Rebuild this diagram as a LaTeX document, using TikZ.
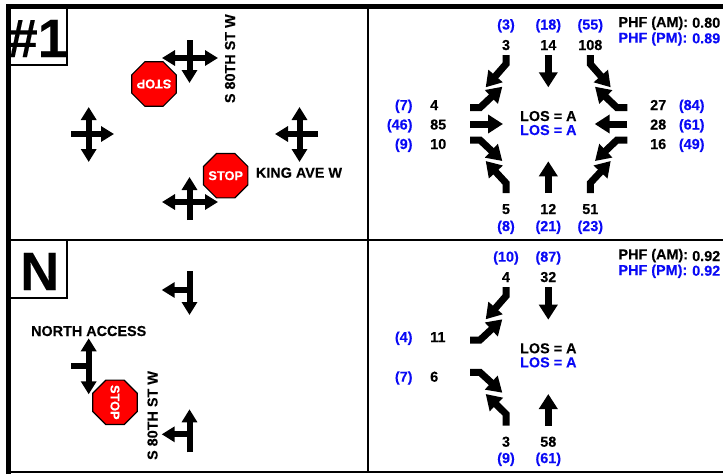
\documentclass[tikz,border=0pt]{standalone}
\usepackage{fontspec}
\setmainfont{Liberation Sans}[BoldFeatures={FakeBold=0.15}]
\usetikzlibrary{arrows.meta,shapes.geometric}
\definecolor{pmblue}{RGB}{10,10,245}
\definecolor{stopred}{RGB}{255,0,0}
\tikzset{
  mv/.style={line width=6pt,-{Triangle[length=13pt,width=15pt]}},
  tm/.style={line width=7pt,-{Triangle[length=15pt,width=18pt]}},
  stub/.style={line width=6pt},
  stopsign/.style={regular polygon,regular polygon sides=8,minimum size=48pt,inner sep=0pt,outer sep=0pt,
    draw=black,line width=1.2pt,fill=stopred},
  stoptext/.style={inner sep=0pt,text=white,font=\fontsize{12.8}{14}\selectfont\bfseries},
  lab/.style={inner sep=0pt,anchor=base,font=\fontsize{14.4}{16}\selectfont\bfseries},
  am/.style={lab,text=black},
  pm/.style={lab,text=pmblue},
  tagbox/.style={draw,line width=1.2pt,fill=white},
  tagnum/.style={inner sep=0pt,anchor=base west,font=\fontsize{54}{60}\selectfont\bfseries}
}
\begin{document}
\begin{tikzpicture}[x=1pt,y=-1pt]
\useasboundingbox (0,0) rectangle (723,474);
% id boxes
\draw[tagbox] (8,8) rectangle (67,65);
\draw[tagbox] (8,240) rectangle (67,298);
\node[tagnum] (tag1) at (7.5,57) {\#1};
\node[tagnum] (tagN) at (20,290) {N};
% frame
\draw[line width=5pt] (8.5,474) -- (8.5,6) -- (723,6);
\draw[line width=2pt] (8.5,240) -- (723,240);
\draw[line width=2pt] (8.5,472) -- (723,472);
\draw[line width=2pt] (368,6) -- (368,472);
% lanes, intersection 1
\draw[mv] (189.5,40) -- (189.5,83);
\draw[mv] (189.5,58) -- (162,58);
\draw[mv] (189.5,58) -- (218,58);
\draw[mv] (71,134) -- (114,134);
\draw[mv] (88.7,134) -- (88.7,107);
\draw[mv] (88.7,134) -- (88.7,162);
\draw[mv] (318,134) -- (275,134);
\draw[mv] (299.5,134) -- (299.5,107);
\draw[mv] (299.5,134) -- (299.5,162);
\draw[mv] (189.5,220) -- (189.5,177);
\draw[mv] (189.5,202) -- (162,202);
\draw[mv] (189.5,202) -- (218,202);
\node[stopsign] (stopS) at (154,84) {};
\node[stoptext,rotate=180] (stopStext) at (stopS) {STOP};
\node[stopsign] (stopN) at (225.7,175.7) {};
\node[stoptext] (stopNtext) at (stopN) {STOP};
\node[lab,rotate=90,anchor=base] (street1) at (235,58.7) {S 80TH ST W};
\node[lab,anchor=base west] (street2) at (255.7,177.7) {KING AVE W};
% lanes, intersection N
\draw[mv] (189.5,271) -- (189.5,315);
\draw[mv] (189.5,290) -- (161.7,290);
\draw[mv] (88.7,366) -- (88.7,338.3);
\draw[mv] (88.7,366) -- (88.7,394.3);
\draw[stub] (71,366) -- (91,366);
\draw[mv] (189.5,452.3) -- (189.5,409.3);
\draw[mv] (189.5,434.3) -- (161.7,434.3);
\node[stopsign] (stopA) at (115,402.3) {};
\node[stoptext,rotate=-90] (stopAtext) at (stopA) {STOP};
\node[lab,rotate=90,anchor=base] (street3) at (157.5,415.5) {S 80TH ST W};
\node[lab] (street4) at (88.7,336) {NORTH ACCESS};
% turning movements 1
\draw[tm] (506,55) -- (506,64) -- (485.7,87.3);
\draw[tm] (548.3,55) -- (548.3,87.3);
\draw[tm] (590.3,55) -- (590.3,64) -- (610.7,87.3);
\draw[tm] (470,107.7) -- (480,107.7) -- (502.3,86.7);
\draw[tm] (470,124) -- (503,124);
\draw[tm] (470,140) -- (480,140) -- (502.3,161);
\draw[tm] (627.3,107.7) -- (617,107.7) -- (595,86.7);
\draw[tm] (627.3,124) -- (594.7,124);
\draw[tm] (627.3,140) -- (617,140) -- (595,161);
\draw[tm] (506,193) -- (506,183) -- (485.7,161);
\draw[tm] (548.3,193) -- (548.3,161.3);
\draw[tm] (590.3,193) -- (590.3,183) -- (610.7,161);
% turning movements N
\draw[tm] (506,287) -- (506,296) -- (485.7,319.3);
\draw[tm] (548.3,287) -- (548.3,319.7);
\draw[tm] (470,340) -- (480,340) -- (502.3,319.3);
\draw[tm] (470,372.3) -- (480,372.3) -- (502.3,392.7);
\draw[tm] (506,425.7) -- (506,414) -- (485.7,394);
\draw[tm] (548.3,425.7) -- (548.3,394);
% volumes, top and bottom rows
\foreach \n/\x/\y/\t in {a/506/50/3,b/548.3/50/14,c/590.3/50/108,d/506/214/5,e/548.3/214/12,f/590.3/214/51,
  g/506/282/4,h/548.3/282/32,i/506/446.7/3,j/548.3/446.7/58}
  \node[am] (am\n) at (\x,\y) {\t};
\foreach \n/\x/\y/\t in {a/506/29.5/3,b/548.3/29.5/18,c/590.3/29.5/55,d/506/231/8,e/548.3/231/21,f/590.3/231/23,
  g/506/261.7/10,h/548.3/261.7/87,i/506/463/9,j/548.3/463/61}
  \node[pm] (pm\n) at (\x,\y) {(\t)};
% volumes, side rows
\foreach \n/\x/\y/\t in {k/430/110/4,l/430/129.5/85,m/430/149/10,n/650/110/27,o/650/129.5/28,p/650/149/16,
  q/430/342/11,r/430/381.7/6}
  \node[am,anchor=base west] (am\n) at (\x,\y) {\t};
\foreach \n/\y/\t in {k/110/7,l/129.5/46,m/149/9,q/342/4,r/381.7/7}
  \node[pm,anchor=base east] (pm\n) at (412.7,\y) {(\t)};
\foreach \n/\y/\t in {n/110/84,o/129.5/61,p/149/49}
  \node[pm,anchor=base west] (pm\n) at (678.7,\y) {(\t)};
% level of service
\node[am] (los1am) at (548.3,121) {LOS = A};
\node[pm] (los1pm) at (548.3,135) {LOS = A};
\node[am] (los2am) at (548.3,353.3) {LOS = A};
\node[pm] (los2pm) at (548.3,367.3) {LOS = A};
% peak hour factors
\node[am,anchor=base west] (phf1am) at (618.3,27) {PHF (AM):};
\node[am,anchor=base west] (val1am) at (692,27.7) {0.80};
\node[pm,anchor=base west] (phf1pm) at (618.3,42.7) {PHF (PM):};
\node[pm,anchor=base west] (val1pm) at (692,43.3) {0.89};
\node[am,anchor=base west] (phf2am) at (618.3,259.3) {PHF (AM):};
\node[am,anchor=base west] (val2am) at (692,261) {0.92};
\node[pm,anchor=base west] (phf2pm) at (618.3,275) {PHF (PM):};
\node[pm,anchor=base west] (val2pm) at (692,275.7) {0.92};
\end{tikzpicture}
\end{document}
